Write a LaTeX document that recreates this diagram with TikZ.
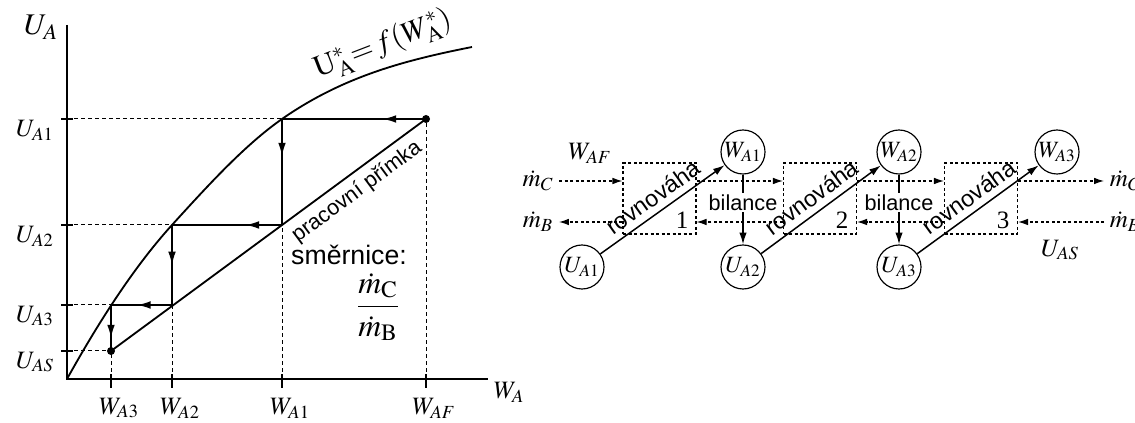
\documentclass[tikz,border=0pt]{standalone}
\usepackage{amsmath}
\usepackage{mathptmx}
\usepackage{fontspec}
\setmainfont{Liberation Serif}
\setsansfont{Liberation Sans}
\usetikzlibrary{arrows.meta,positioning,decorations.markings,calc}

\begin{document}
\begin{tikzpicture}[x=0.6pt,y=0.6pt,font=\fontsize{15}{18}\selectfont,
    axis/.style={line width=1.3pt},
    curve/.style={line width=1.1pt},
    guide/.style={line width=0.6pt,dash pattern=on 2.4pt off 1.8pt},
    stair/.style={line width=0.9pt,postaction={decorate},
      decoration={markings,mark=at position #1 with {\arrow{Latex[length=8pt,width=4.6pt]}}}},
    flow/.style={line width=0.7pt,dash pattern=on 1.8pt off 1.5pt,-{Latex[length=6pt,width=4pt]}},
    stage/.style={draw,line width=0.7pt,dash pattern=on 1.8pt off 1.5pt,
      minimum width=43.8pt,minimum height=42.6pt,inner sep=0pt},
    conc/.style={draw,circle,line width=0.7pt,minimum size=26.4pt,inner sep=0pt,
      font=\fontsize{14}{16}\selectfont},
    link/.style={line width=0.9pt,-{Latex[length=7pt,width=4.4pt]}},
    sans/.style={font=\sffamily\fontsize{#1}{#1}\selectfont}]
  \useasboundingbox (0,0) rectangle (1135,423);

  % graf U_A -- W_A
  \coordinate (O) at (67,44);
  \coordinate (e1) at (282,304);
  \coordinate (e2) at (172,198);
  \coordinate (e3) at (111,118);
  \coordinate (F) at (426,304);
  \coordinate (o2) at (282,198);
  \coordinate (o3) at (172,118);
  \coordinate (S) at (111,72);
  \draw[axis] (67,398) -- (O) -- (488,44);
  \foreach \n/\y in {A1/304,A2/198,A3/118,AS/72} {
    \draw[axis] (61,\y) -- (73,\y);
    \node (u\n) at (35,\y-11) {$U_{\n}$};
  }
  \foreach \n/\x in {A3/111,A2/172,A1/282,AF/426} {
    \draw[axis] (\x,35) -- (\x,49);
    \node (w\n) at (\x+8,15) {$W_{\n}$};
  }
  \node[font=\fontsize{18}{20}\selectfont] (uA) at (41,396) {$U_A$};
  \node (wA) at (509,31) {$W_A$};

  % rovnovazna krivka, pracovni primka
  \draw[curve] (O) .. controls (102,107) and (137,159.5) .. (e2)
    .. controls (209,238.7) and (245,278.1) .. (e1)
    .. controls (345,348) and (409,363.4) .. (472,376);
  \draw[curve] (S) -- (F);
  \fill (F) circle (2.4pt) (S) circle (2.4pt);
  \foreach \p in {e1,e2,e3,S} \draw[guide] (O |- \p) -- (\p);
  \foreach \p in {S,o3,o2,F} \draw[guide] (O -| \p) -- (\p);

  % stupne
  \draw[stair=.3] (F) -- (e1);
  \draw[stair=.35] (e1) -- (o2);
  \draw[stair=.33] (o2) -- (e2);
  \draw[stair=.5] (e2) -- (o3);
  \draw[stair=.57] (o3) -- (e3);
  \draw[stair=.72] (e3) -- (S);

  \node[rotate=21,font=\fontsize{18}{20}\selectfont] (eqlab) at (383,378)
    {$\mathrm{U}^{*}_{\mathrm{A}}{=}\,f(W^{*}_{\mathrm{A}})$};
  \node[sans=13,rotate=36.4] (oplab) at (357,231) {pracovní přímka};
  \node[sans=16] (slope) at (349,168) {směrnice:};
  \node[font=\fontsize{19}{22}\selectfont] (ratio) at (378,116)
    {$\dfrac{\dot m_{\mathrm C}}{\dot m_{\mathrm B}}$};

  % schema kaskady
  \node[stage] (b1) at (659.5,224.5) {};
  \node[stage] (b2) at (820,224.5) {};
  \node[stage] (b3) at (981,224.5) {};
  \node[conc] (U1) at (582,156) {$U_{A1}$};
  \node[conc] (W1) at (743,271) {$W_{A1}$};
  \node[conc] (U2) at (743,156) {$U_{A2}$};
  \node[conc] (W2) at (899,271) {$W_{A2}$};
  \node[conc] (U3) at (899,156) {$U_{A3}$};
  \node[conc] (W3) at (1057,271) {$W_{A3}$};
  \node (mC) at (538,242) {$\dot m_C$};
  \node (mB) at (538,201) {$\dot m_B$};
  \node[anchor=west] (mCr) at (1104,242) {$\dot m_C$};
  \node[anchor=west] (mBr) at (1104,201) {$\dot m_B$};
  \node (wAF) at (590,270) {$W_{AF}$};
  \node (uAS) at (1060,173) {$U_{AS}$};
  \foreach \i/\x in {1/682,2/842,3/1003} \node (n\i) at (\x,203) {\i};

  % toky
  \draw[flow] (mC) -- (b1.west |- mC);
  \draw[flow] (b1.east |- mC) -- (b2.west |- mC);
  \draw[flow] (b2.east |- mC) -- (b3.west |- mC);
  \draw[flow] (b3.east |- mC) -- (mCr);
  \draw[flow] (mBr) -- (b3.east |- mB);
  \draw[flow] (b3.west |- mB) -- (b2.east |- mB);
  \draw[flow] (b2.west |- mB) -- (b1.east |- mB);
  \draw[flow] (b1.west |- mB) -- (mB);

  % rovnovaha a bilance
  \draw[link] (U1) -- (W1);
  \draw[link] (U2) -- (W2);
  \draw[link] (U3) -- (W3);
  \foreach \k/\x/\r in {1/653/35.5,2/811.5/36.4,3/968.5/36}
    \node[sans=14,rotate=\r,inner sep=1pt] (r\k) at (\x,226) {rovnováha};
  \draw[link] (W1) -- node[sans=13,pos=.4,fill=white,inner sep=1pt] (bil1) {bilance} (U2);
  \draw[link] (W2) -- node[sans=13,pos=.4,fill=white,inner sep=1pt] (bil2) {bilance} (U3);
\end{tikzpicture}
\end{document}
